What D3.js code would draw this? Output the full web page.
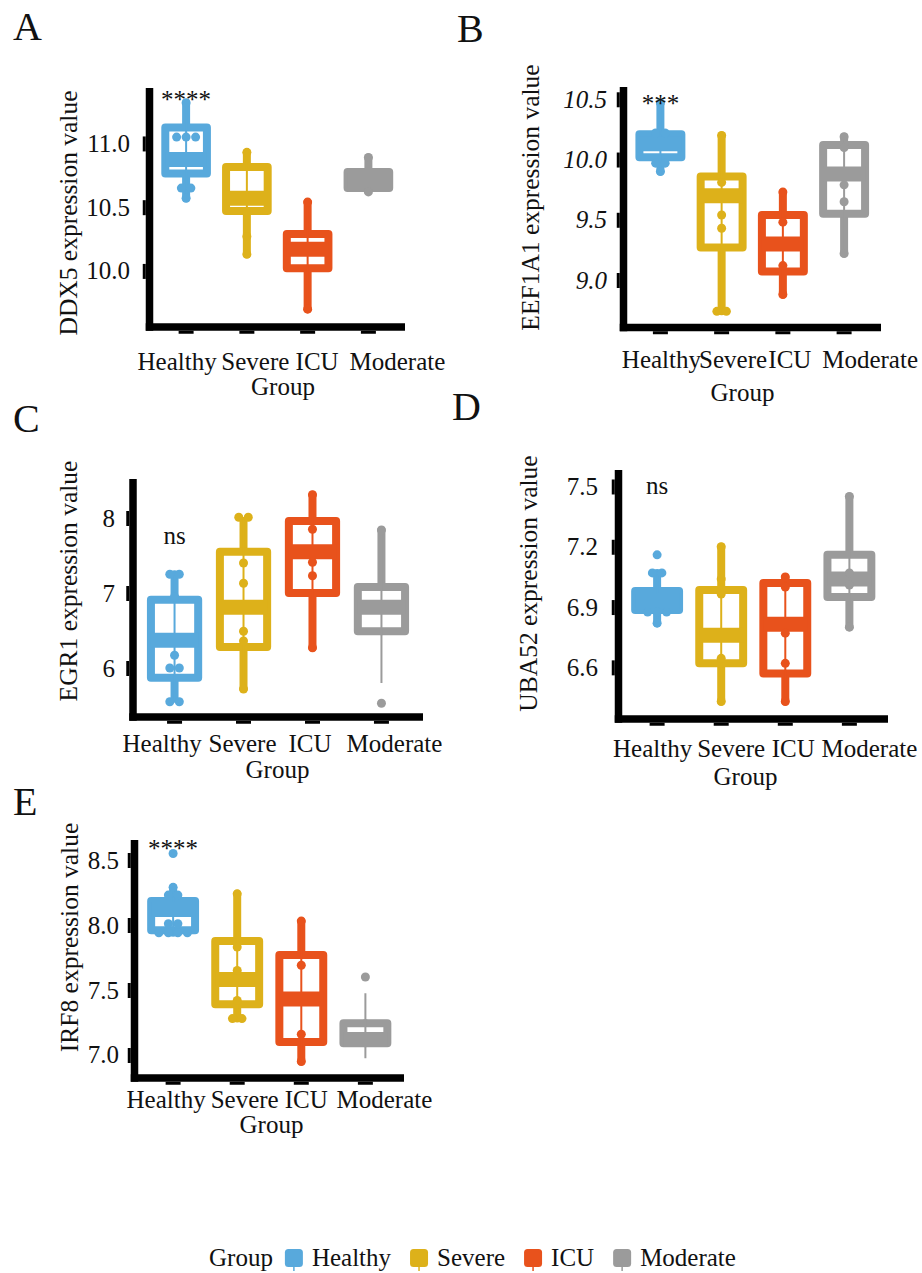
<!DOCTYPE html>
<html>
<head>
<meta charset="utf-8">
<script src="https://cdn.jsdelivr.net/npm/d3@7"></script>
<style>
  body { margin: 0; background: #fff; }
  svg text { font-family: "Liberation Serif", serif; fill: #111; }
</style>
</head>
<body>
<svg id="fig" width="922" height="1273"></svg>
<script>
// groups and their colours
const groups = ["Healthy", "Severe", "ICU", "Moderate"];
const groupColors = ["#58A9DC", "#DDB11A", "#E8521C", "#9B9B9B"];

// box summaries per group: [whisker low, Q1, median, Q3, whisker high]
// thin line ends per group: [low, high]
// single points per group

// DDX5
const ddx5Box = [[10.57, 10.765, 10.875, 11.125, 11.32], [10.13, 10.47, 10.57, 10.816, 10.93],
                 [9.70, 10.02, 10.17, 10.29, 10.54], [10.651, 10.651, 10.71, 10.776, 10.89]];
const ddx5Tail = [[10.57, 11.32], [10.13, 10.93], [9.70, 10.54], [10.62, 10.89]];
const ddx5Pts = [[11.32, 11.05, 11.05, 11.05, 10.65, 10.65, 10.57], [10.93, 10.27, 10.13],
                 [10.54, 9.70], [10.89, 10.62]];
const ddx5Ticks = [10.0, 10.5, 11.0];

// EEF1A1
const eef1a1Box = [[9.90, 10.02, 10.13, 10.21, 10.46], [8.74, 9.27, 9.70, 9.86, 10.20],
                   [8.88, 9.07, 9.30, 9.54, 9.73], [9.22, 9.55, 9.88, 10.12, 10.19]];
const eef1a1Tail = [[9.90, 10.46], [8.74, 10.20], [8.88, 9.73], [9.22, 10.19]];
const eef1a1Pts = [[10.47, 10.22, 10.22, 9.97, 9.97, 9.90], [10.20, 9.81, 9.54, 9.43, 8.74, 8.74],
                   [9.73, 9.48, 9.12, 8.88], [10.19, 10.10, 9.79, 9.65, 9.22]];
const eef1a1Ticks = [9.0, 9.5, 10.0, 10.5];

// EGR1
const egr1Box = [[5.59, 5.87, 6.37, 6.91, 7.25], [5.72, 6.28, 6.81, 7.55, 7.96],
                 [6.27, 7.00, 7.55, 7.96, 8.31], [6.49, 6.49, 6.81, 7.08, 7.84]];
const egr1Tail = [[5.55, 7.25], [5.72, 8.01], [6.27, 8.31], [5.80, 7.84]];
const egr1Pts = [[7.25, 7.25, 6.95, 6.17, 6.00, 6.00, 5.55, 5.55], [8.01, 8.01, 7.40, 7.13, 6.49, 6.36, 5.72],
                 [8.31, 7.85, 7.41, 7.23, 6.27], [7.84, 5.53]];
const egr1Ticks = [6, 7, 8];

// UBA52
const uba52Box = [[6.82, 6.885, 6.93, 6.98, 7.07], [6.43, 6.62, 6.76, 6.985, 7.20],
                  [6.43, 6.57, 6.815, 7.02, 7.05], [6.80, 6.95, 7.04, 7.16, 7.45]];
const uba52Tail = [[6.82, 7.07], [6.43, 7.20], [6.43, 7.05], [6.80, 7.45]];
const uba52Pts = [[7.16, 7.07, 7.07, 6.875, 6.875, 6.875, 6.82], [7.20, 7.04, 6.965, 6.645, 6.43],
                  [7.05, 7.00, 6.77, 6.62, 6.43], [7.45, 7.07, 7.01, 6.80]];
const uba52Ticks = [6.6, 6.9, 7.2, 7.5];

// IRF8
const irf8Box = [[7.94, 7.96, 8.12, 8.185, 8.29], [7.28, 7.39, 7.58, 7.877, 8.24],
                 [6.95, 7.10, 7.43, 7.77, 8.03], [7.09, 7.09, 7.12, 7.245, 7.245]];
const irf8Tail = [[7.94, 8.29], [7.28, 8.24], [6.95, 8.03], [6.975, 7.475]];
const irf8Pts = [[8.55, 8.29, 8.23, 8.23, 8.01, 8.01, 7.94, 7.94, 7.94, 7.94], [8.24, 7.83, 7.65, 7.42, 7.28, 7.28],
                 [8.03, 7.69, 7.16, 6.95], [7.60]];
const irf8Ticks = [7.0, 7.5, 8.0, 8.5];

// significance labels and the value where they sit
const sigLabels = ["****", "***", "ns", "ns", "****"];
const sigValues = [11.28, 10.394, 7.653, 7.462, 8.523];

const FONT = "Liberation Serif, serif";
const svg = d3.select("#fig");

// panel layout (pixels)
const panels = [
  { tag: "A", gene: "DDX5", box: ddx5Box, tail: ddx5Tail, pts: ddx5Pts, ticks: ddx5Ticks, fmt: ".1f", italic: false,
    domain: [9.56, 11.435], ax: 149.5, right: 405, top: 88, base: 327, letter: [13, 40], ylab: [77, 213], gap: 19.5,
    catY: 370, catShift: [-9, 8.5, 9.5, 29], groupXY: [283, 395] },
  { tag: "B", gene: "EEF1A1", box: eef1a1Box, tail: eef1a1Tail, pts: eef1a1Pts, ticks: eef1a1Ticks, fmt: ".1f", italic: true,
    domain: [8.606, 10.602], ax: 623.5, right: 881, top: 87, base: 327.5, letter: [457, 42], ylab: [539, 197.5], gap: 16.5,
    catY: 368, catShift: [1, 11.5, 7, 26], groupXY: [742.5, 401] },
  { tag: "C", gene: "EGR1", box: egr1Box, tail: egr1Tail, pts: egr1Pts, ticks: egr1Ticks, fmt: "d", italic: false,
    domain: [5.347, 8.52], ax: 133, right: 423, top: 479, base: 717, letter: [13, 432], ylab: [77, 581], gap: 18,
    catY: 752, catShift: [-12.5, -1, -2.5, 13], groupXY: [277.5, 778] },
  { tag: "D", gene: "UBA52", box: uba52Box, tail: uba52Tail, pts: uba52Pts, ticks: uba52Ticks, fmt: ".1f", italic: false,
    domain: [6.343, 7.582], ax: 618.5, right: 888, top: 470, base: 719, letter: [452, 420], ylab: [537, 583.5], gap: 20.5,
    catY: 757, catShift: [-4.5, 10, 8, 20], groupXY: [745.5, 785] },
  { tag: "E", gene: "IRF8", box: irf8Box, tail: irf8Tail, pts: irf8Pts, ticks: irf8Ticks, fmt: ".1f", italic: false,
    domain: [6.823, 8.654], ax: 134.5, right: 404, top: 840, base: 1078, letter: [13, 815], ylab: [78, 937.5], gap: 15.5,
    catY: 1108, catShift: [-7, 7.5, 5, 19], groupXY: [271.5, 1133] }
];

// spread repeated values side by side
const spread = vals => {
  const count = d3.rollup(vals, v => v.length, d => d);
  const used = new Map();
  return vals.map(v => {
    const k = count.get(v), j = used.get(v) || 0;
    used.set(v, j + 1);
    return (j - (k - 1) / 2) * 9.5;
  });
};

const serif = sel => sel.style("font-family", FONT).style("fill", "#111");

function drawPanel(p, pi) {
  const g = svg.append("g");
  const x = d3.scaleBand().domain(groups).range([p.ax, p.right]).paddingInner(0.315).paddingOuter(0.26);
  const y = d3.scaleLinear().domain(p.domain).range([p.base, p.top]);
  const bw = x.bandwidth();
  const cx = name => x(name) + bw / 2;

  // panel letter
  g.append("text").attr("x", p.letter[0]).attr("y", p.letter[1]).attr("font-size", 40).text(p.tag).call(serif);

  // y axis
  const ya = g.append("g").attr("transform", `translate(${p.ax - 3.75},0)`)
    .call(d3.axisLeft(y).tickValues(p.ticks).tickFormat(d3.format(p.fmt)).tickSize(3).tickPadding(p.gap - 6.75));
  ya.attr("font-family", null).attr("font-size", null);
  ya.select(".domain").remove();
  ya.selectAll(".tick line").attr("stroke", "#000").attr("stroke-width", 15);
  ya.selectAll(".tick text").attr("font-size", 25).call(serif)
    .style("font-style", p.italic ? "italic" : "normal");

  // x axis
  const xa = g.append("g").attr("transform", `translate(0,${p.base + 3.75})`)
    .call(d3.axisBottom(x).tickSize(3).tickPadding(0));
  xa.attr("font-family", null).attr("font-size", null);
  xa.select(".domain").remove();
  xa.selectAll(".tick line").attr("stroke", "#000").attr("stroke-width", 15);
  xa.selectAll(".tick text").attr("y", p.catY - p.base - 3.75).attr("dy", null)
    .attr("dx", (d, i) => p.catShift[i]).attr("font-size", 25).call(serif);

  // thick axis lines
  g.append("line").attr("x1", p.ax).attr("x2", p.ax).attr("y1", p.top).attr("y2", p.base + 3.75)
    .attr("stroke", "#000").attr("stroke-width", 7.5);
  g.append("line").attr("x1", p.ax - 3.75).attr("x2", p.right).attr("y1", p.base).attr("y2", p.base)
    .attr("stroke", "#000").attr("stroke-width", 7.5);

  // axis titles
  g.append("text").attr("transform", `translate(${p.ylab[0]},${p.ylab[1]}) rotate(-90)`)
    .attr("text-anchor", "middle").attr("font-size", 25.5).text(`${p.gene} expression value`).call(serif);
  g.append("text").attr("x", p.groupXY[0]).attr("y", p.groupXY[1]).attr("text-anchor", "middle")
    .attr("font-size", 25).text("Group").call(serif);

  const rows = groups.map((name, i) => ({ name, color: groupColors[i], b: p.box[i], t: p.tail[i] }));
  const grp = g.selectAll("g.grp").data(rows).enter().append("g").attr("class", "grp");

  // whiskers
  grp.append("line").attr("x1", d => cx(d.name)).attr("x2", d => cx(d.name))
    .attr("y1", d => y(d.b[0])).attr("y2", d => y(d.b[1]))
    .attr("stroke", d => d.color).attr("stroke-width", 8).attr("stroke-linecap", "round");
  grp.append("line").attr("x1", d => cx(d.name)).attr("x2", d => cx(d.name))
    .attr("y1", d => y(d.b[3])).attr("y2", d => y(d.b[4]))
    .attr("stroke", d => d.color).attr("stroke-width", 8).attr("stroke-linecap", "round");

  // box
  grp.append("rect").attr("x", d => x(d.name)).attr("width", bw)
    .attr("y", d => y(d.b[3])).attr("height", d => y(d.b[1]) - y(d.b[3]))
    .attr("fill", "#fff").attr("stroke", d => d.color).attr("stroke-width", 8)
    .attr("stroke-linejoin", "round");

  // thin range line
  grp.append("line").attr("x1", d => cx(d.name)).attr("x2", d => cx(d.name))
    .attr("y1", d => y(d.t[0])).attr("y2", d => y(d.t[1]))
    .attr("stroke", d => d.color).attr("stroke-width", 2);

  // median band
  grp.append("line").attr("x1", d => x(d.name)).attr("x2", d => x(d.name) + bw)
    .attr("y1", d => y(d.b[2])).attr("y2", d => y(d.b[2]))
    .attr("stroke", d => d.color).attr("stroke-width", 15);

  // points
  const pts = [];
  p.pts.forEach((vals, i) => {
    const off = spread(vals);
    vals.forEach((v, j) => pts.push({ name: groups[i], color: groupColors[i], v, dx: off[j] }));
  });
  g.selectAll("circle.pt").data(pts).enter().append("circle").attr("class", "pt")
    .attr("cx", d => cx(d.name) + d.dx).attr("cy", d => y(d.v)).attr("r", 4.5)
    .attr("fill", d => d.color);

  // significance label
  g.append("text").attr("x", cx(groups[0])).attr("y", y(sigValues[pi]))
    .attr("text-anchor", "middle").attr("font-size", 25).text(sigLabels[pi]).call(serif);
}

panels.forEach(drawPanel);

// legend
const lg = svg.append("g");
let cur = 209;
const title = lg.append("text").attr("x", cur).attr("y", 1266).attr("font-size", 25).text("Group").call(serif);
cur += title.node().getComputedTextLength() + 12;
groups.forEach((name, i) => {
  lg.append("rect").attr("x", cur).attr("y", 1249).attr("width", 18).attr("height", 18).attr("rx", 3.5)
    .attr("fill", groupColors[i]);
  lg.append("line").attr("x1", cur + 9).attr("x2", cur + 9).attr("y1", 1267).attr("y2", 1271)
    .attr("stroke", groupColors[i]).attr("stroke-width", 1.5);
  const t = lg.append("text").attr("x", cur + 27).attr("y", 1266).attr("font-size", 25).text(name).call(serif);
  cur += 27 + t.node().getComputedTextLength() + 19;
});
</script>
</body>
</html>
